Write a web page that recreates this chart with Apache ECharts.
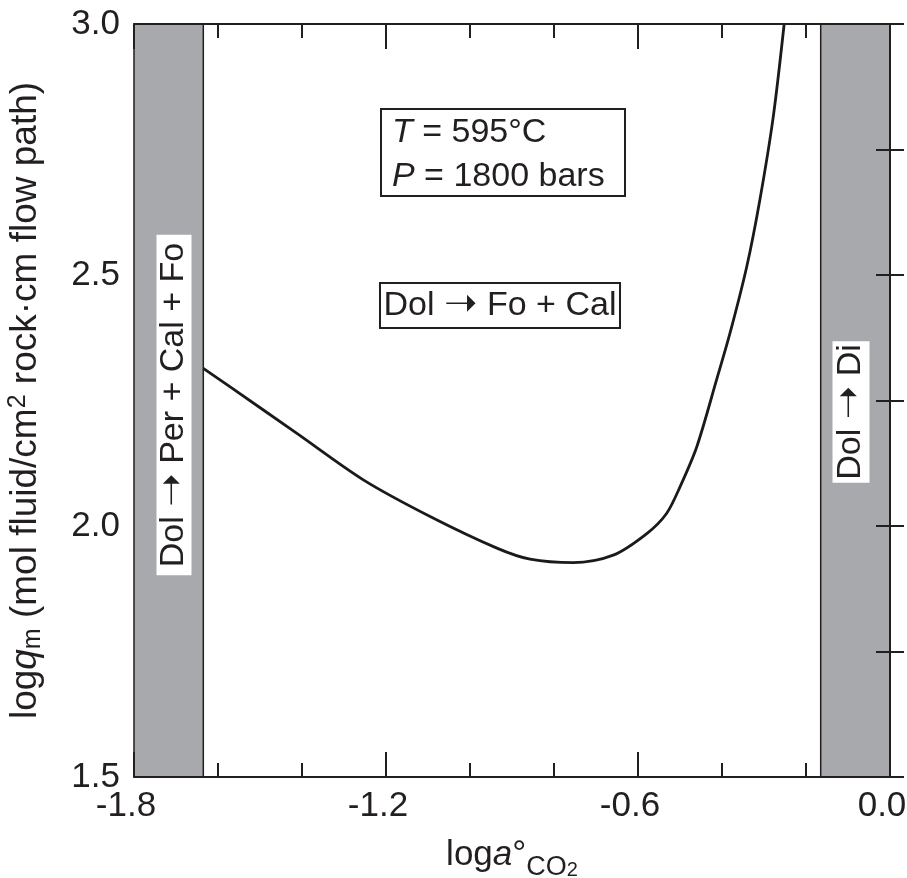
<!DOCTYPE html>
<html>
<head>
<meta charset="utf-8">
<script src="https://cdn.jsdelivr.net/npm/echarts@6/dist/echarts.min.js"></script>
<style>
html,body{margin:0;padding:0;background:#fff;overflow:hidden;width:907px;height:878px;}
#c{position:absolute;left:0;top:0;width:907px;height:878px;}
</style>
</head>
<body>
<div id="c"></div>
<script>
// ---- data ----
const xTickLabels = ['-1.8', '-1.2', '-0.6', '0.0'];
const yTickLabels = ['1.5', '2.0', '2.5', '3.0'];
const curveX = [-1.635, -1.571, -1.413, -1.254, -1.095, -0.936, -0.857, -0.754, -0.659, -0.579, -0.532, -0.500, -0.460, -0.413, -0.381, -0.341, -0.310, -0.278, -0.252];
const curveY = [2.314, 2.277, 2.185, 2.092, 2.019, 1.956, 1.934, 1.927, 1.942, 1.985, 2.025, 2.078, 2.158, 2.291, 2.384, 2.517, 2.649, 2.815, 3.000];
const bandLeft = [-1.8, -1.635];
const bandRight = [-0.165, 0.0];
const bandLeftLabel = 'Dol {arr|\u279D} Per + Cal + Fo';
const bandRightLabel = 'Dol {arr|\u279D} Di';
const condLines = ['{i|T} = 595°C', '{i|P} = 1800 bars'];
const reactionLabel = 'Dol {arr|\u279D} Fo + Cal';

const FONT = '"Liberation Sans", Arial, Helvetica, sans-serif';
const INK = '#231f20';
const GRAY = '#a7a9ac';

const chart = echarts.init(document.getElementById('c'), null, {renderer: 'canvas', width: 907, height: 878});

function axisCommon(extra) {
  return Object.assign({
    type: 'value',
    z: 10,
    axisLine: {show: true, lineStyle: {color: INK, width: 2}},
    splitLine: {show: false},
    minorSplitLine: {show: false}
  }, extra);
}

const option = {
  animation: false,
  backgroundColor: '#fff',
  grid: {left: 134, right: 17, top: 24, bottom: 101, containLabel: false, outerBoundsMode: 'none'},
  xAxis: [
    axisCommon({
      position: 'bottom', min: -1.8, max: 0.0, interval: 0.6,
      axisTick: {show: true, inside: true, length: 25, lineStyle: {color: INK, width: 2}},
      minorTick: {show: true, splitNumber: 3, length: 14, lineStyle: {color: INK, width: 2}},
      axisLabel: {show: true, margin: 12, color: INK, fontFamily: FONT, fontSize: 35,
        padding: [0, 16, 0, 0],
        formatter: function (v, i) { return xTickLabels[i]; }},
      name: 'log{i|a}°{sub|CO}{sub2|2}',
      nameLocation: 'middle', nameGap: 48,
      nameTextStyle: {color: INK, fontFamily: FONT, fontSize: 35, lineHeight: 52,
        rich: {
          i: {fontStyle: 'italic', fontFamily: FONT, fontSize: 35, color: INK},
          sub: {fontFamily: FONT, fontSize: 27, color: INK, verticalAlign: 'bottom', lineHeight: 27},
          sub2: {fontFamily: FONT, fontSize: 20, color: INK, verticalAlign: 'bottom', lineHeight: 14}
        }}
    }),
    axisCommon({
      position: 'top', min: -1.8, max: 0.0, interval: 0.6,
      axisTick: {show: true, inside: true, length: 25, lineStyle: {color: INK, width: 2}},
      minorTick: {show: true, splitNumber: 3, length: 14, lineStyle: {color: INK, width: 2}},
      axisLabel: {show: false}
    })
  ],
  yAxis: [
    axisCommon({
      position: 'left', min: 1.5, max: 3.0, interval: 0.5,
      axisTick: {show: true, inside: true, length: 14, lineStyle: {color: INK, width: 2}},
      minorTick: {show: true, splitNumber: 2, length: 14, lineStyle: {color: INK, width: 2}},
      axisLabel: {show: true, margin: 14, color: INK, fontFamily: FONT, fontSize: 35,
        formatter: function (v, i) { return yTickLabels[i]; }},
      name: 'log{i|q}{sub|m} (mol fluid/cm{sup|2} rock·cm flow path)',
      nameLocation: 'middle', nameRotate: 90, nameGap: 88,
      nameTextStyle: {color: INK, fontFamily: FONT, fontSize: 37, lineHeight: 40,
        rich: {
          i: {fontStyle: 'italic', fontFamily: FONT, fontSize: 37, color: INK},
          sub: {fontFamily: FONT, fontSize: 25, color: INK, verticalAlign: 'bottom', lineHeight: 25},
          sup: {fontFamily: FONT, fontSize: 25, color: INK, verticalAlign: 'top', lineHeight: 25}
        }}
    }),
    axisCommon({
      position: 'right', min: 1.5, max: 3.0, interval: 0.5,
      axisTick: {show: true, inside: true, length: 14, lineStyle: {color: INK, width: 2}},
      minorTick: {show: true, splitNumber: 2, length: 14, lineStyle: {color: INK, width: 2}},
      axisLabel: {show: false}
    })
  ],
  series: [{
    type: 'line',
    xAxisIndex: 0, yAxisIndex: 0,
    data: curveX.map(function (x, i) { return [x, curveY[i]]; }),
    smooth: 0.3,
    showSymbol: false,
    symbol: 'none',
    clip: true,
    lineStyle: {color: '#1a1a1a', width: 2.8},
    markArea: {
      silent: true,
      itemStyle: {color: GRAY, borderColor: INK, borderWidth: 1.5},
      data: [
        [{xAxis: bandLeft[0]}, {xAxis: bandLeft[1]}],
        [{xAxis: bandRight[0]}, {xAxis: bandRight[1]}]
      ]
    }
  }]
};
chart.setOption(option);

// annotations
const labelFont = '34px ' + FONT;
const arrRich = {arr: {fontFamily: '"DejaVu Sans", sans-serif', fontSize: 40, fill: INK}};
chart.setOption({
  graphic: [
    {type: 'rect', z: 100, shape: {x: 381, y: 109, width: 244, height: 87},
      style: {fill: '#fff', stroke: INK, lineWidth: 2}},
    {type: 'text', z: 101, x: 392, y: 133,
      style: {text: condLines[0], font: labelFont, fill: INK, verticalAlign: 'middle', align: 'left',
        rich: {i: {fontStyle: 'italic', fontSize: 34, fontFamily: FONT, fill: INK}}}},
    {type: 'text', z: 101, x: 392, y: 177,
      style: {text: condLines[1], font: labelFont, fill: INK, verticalAlign: 'middle', align: 'left',
        rich: {i: {fontStyle: 'italic', fontSize: 34, fontFamily: FONT, fill: INK}}}},
    {type: 'rect', z: 100, shape: {x: 380, y: 283, width: 240, height: 45},
      style: {fill: '#fff', stroke: INK, lineWidth: 2}},
    {type: 'text', z: 101, x: 500, y: 306,
      style: {text: reactionLabel, font: labelFont, fill: INK, verticalAlign: 'middle', align: 'center', rich: arrRich}},
    {type: 'text', z: 101, x: 174, y: 405, rotation: Math.PI / 2,
      style: {text: bandLeftLabel, font: labelFont, fill: INK, verticalAlign: 'middle', align: 'center',
        backgroundColor: '#fff', padding: [0, 8, 0, 8], lineHeight: 35, rich: arrRich}},
    {type: 'text', z: 101, x: 851, y: 412, rotation: Math.PI / 2,
      style: {text: bandRightLabel, font: labelFont, fill: INK, verticalAlign: 'middle', align: 'center',
        backgroundColor: '#fff', padding: [0, 3, 0, 3], lineHeight: 37, rich: arrRich}}
  ]
});
</script>
</body>
</html>
